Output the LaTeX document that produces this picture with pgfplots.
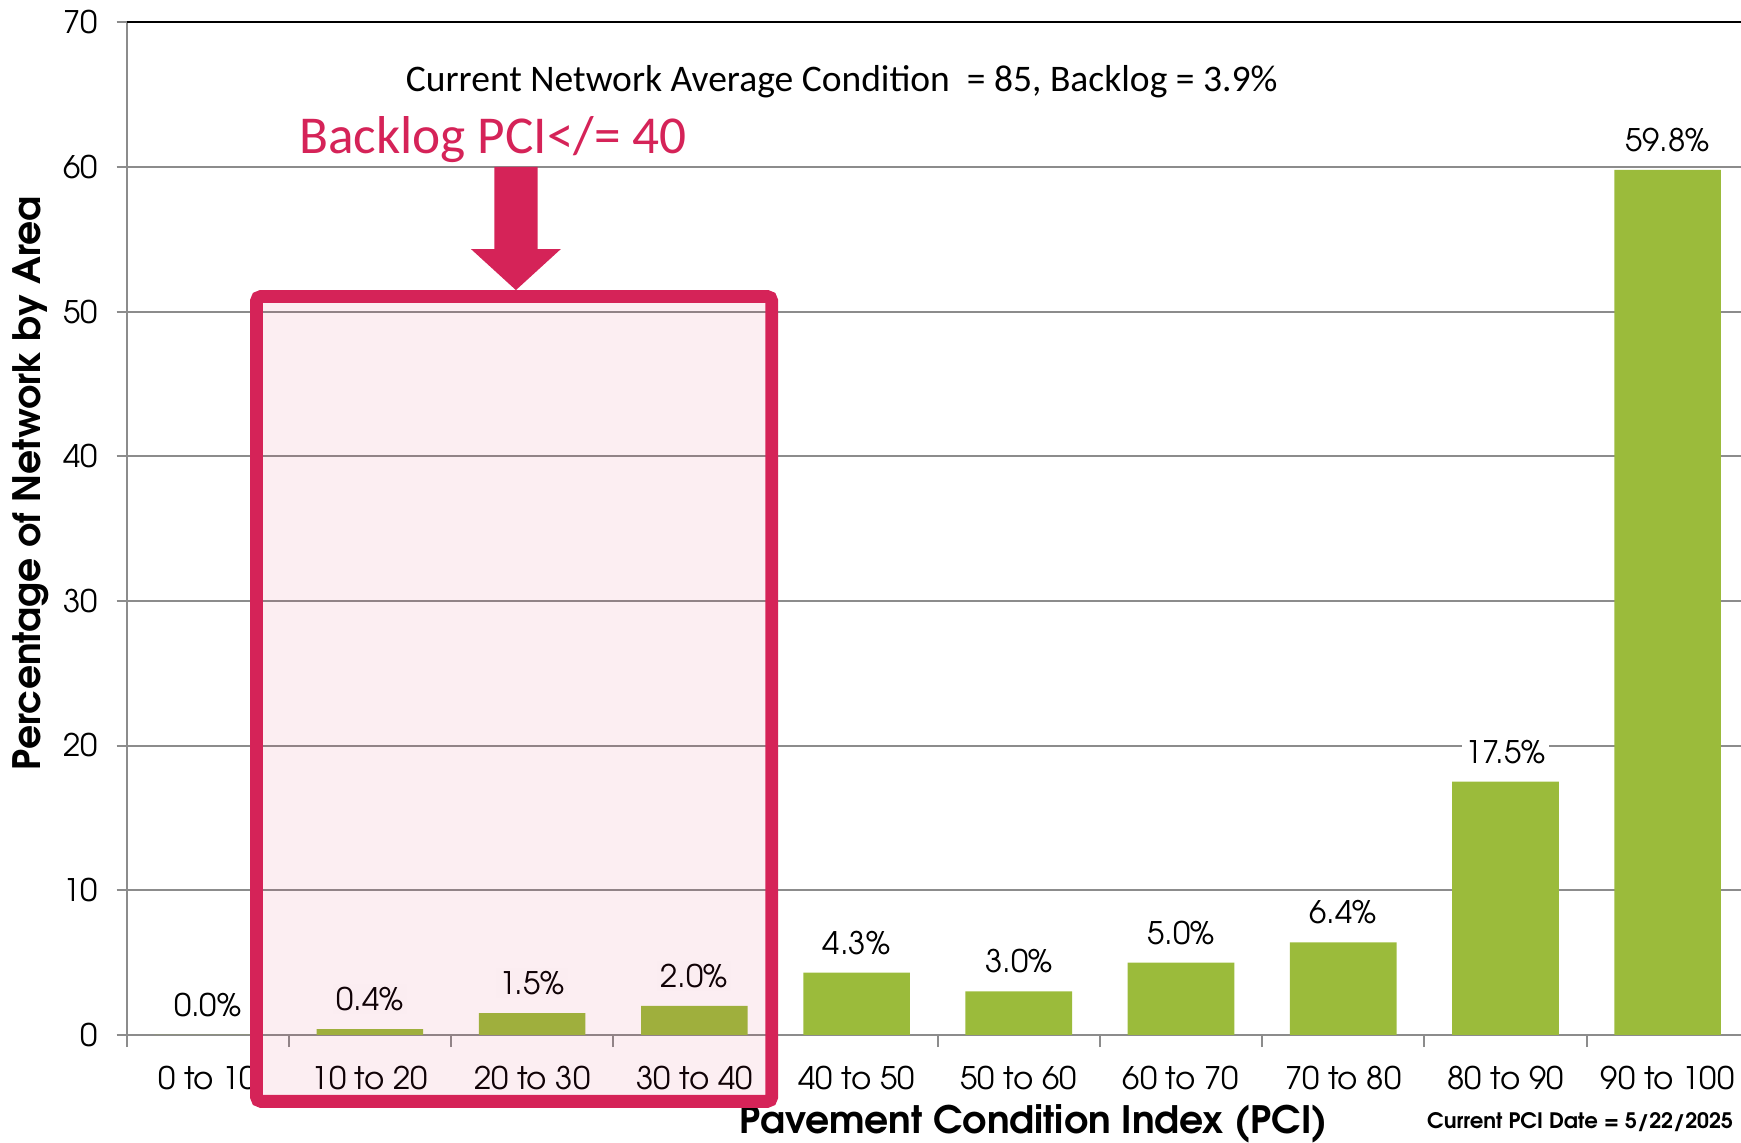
\documentclass[border=0pt]{standalone}
\usepackage{pgfplots}
\pgfplotsset{compat=1.18}
\usetikzlibrary{calc}
\usepackage{fontspec}
\setmainfont{texgyreadventor-regular.otf}[BoldFont=texgyreadventor-bold.otf]
\newfontfamily\calib{Carlito}
\definecolor{bargreen}{HTML}{9BBB3B}
\definecolor{crim}{HTML}{D52358}
\definecolor{gridgray}{HTML}{8C8C8C}
\begin{document}
\begin{tikzpicture}
\begin{axis}[
  name=a,
  scale only axis, width=730.5pt, height=456pt,
  xmin=-0.5, xmax=9.5, ymin=0, ymax=70,
  clip=false,
  /pgf/number format/assume math mode=true,
  axis x line*=bottom, axis y line*=left,
  axis line style={gridgray, line width=0.9pt},
  ytick={0,10,...,70},
  ymajorgrids, grid style={gridgray, line width=0.9pt},
  xtick={0,...,9},
  xticklabels={0 to 10,10 to 20,20 to 30,30 to 40,40 to 50,50 to 60,60 to 70,70 to 80,80 to 90,90 to 100},
  major x tick style={draw=none},
  minor xtick={-0.5,0.5,...,9.5},
  minor x tick style={gridgray, line width=0.9pt},
  major y tick style={gridgray, line width=0.9pt},
  tick align=outside,
  major tick length=4.5pt, minor tick length=5.5pt,
  xticklabel style={font=\fontsize{14}{16}\selectfont, yshift=-6pt},
  yticklabel style={font=\fontsize{14}{16}\selectfont, xshift=-5pt},
  ybar, bar width=48pt,
  nodes near coords={\pgfmathprintnumber[fixed, fixed zerofill, precision=1]{\pgfplotspointmeta}\%},
  every node near coord/.append style={font=\fontsize{14}{16}\selectfont, fill=white, inner sep=1.5pt, anchor=center, yshift=13.5pt},
]
\addplot[fill=bargreen, draw=none] coordinates {
(0,0.0) (1,0.4) (2,1.5) (3,2.0) (4,4.3) (5,3.0) (6,5.0) (7,6.4) (8,17.5) (9,59.8)};
\draw[black, line width=1pt] (axis cs:-0.5,70) -- (axis cs:9.5,70);
\coordinate (r1) at (axis cs:0.301,51.04);
\coordinate (r2) at (axis cs:3.477,-4.60);
\coordinate (arr) at (axis cs:1.90,60);
\coordinate (t1) at (axis cs:3.908,65.9);
\coordinate (t2) at (axis cs:1.759,61.86);
\coordinate (xl) at (axis cs:5.092,-6.14);
\coordinate (dl) at (axis cs:8.46,-6.06);
\coordinate (yl) at (axis cs:-1.089,38.14);
\end{axis}
\node[font=\calib\fontsize{16.9}{20}\selectfont] at (t1) {Current Network Average Condition\ \ = 85, Backlog = 3.9\%};
\node[font=\calib\fontsize{24}{28}\selectfont, text=crim] at (t2) {Backlog PCI</= 40};
\node[font=\bfseries\fontsize{17}{20}\selectfont] at (xl) {Pavement Condition Index (PCI)};
\node[font=\bfseries\fontsize{9.6}{11}\selectfont] at (dl) {Current PCI Date = 5/22/2025};
\node[font=\bfseries\fontsize{17}{20}\selectfont, rotate=90] at (yl) {Percentage of Network by Area};
\fill[crim] (arr) ++(-9.75pt,0) -- ++(19.5pt,0) -- ++(0,-37pt) -- ++(10.5pt,0) -- ($(arr)+(0,-55.5pt)$) -- ($(arr)+(-20.25pt,-37pt)$) -- ($(arr)+(-9.75pt,-37pt)$) -- cycle;
\draw[crim, line width=5.75pt, rounded corners=2pt, fill=crim, fill opacity=0.08, draw opacity=1] (r1) rectangle (r2);
\pgfresetboundingbox
\path[use as bounding box] ($(a.south west)+(-57pt,-48.5pt)$) rectangle ($(a.north east)+(-3.5pt,10pt)$);
\end{tikzpicture}
\end{document}
